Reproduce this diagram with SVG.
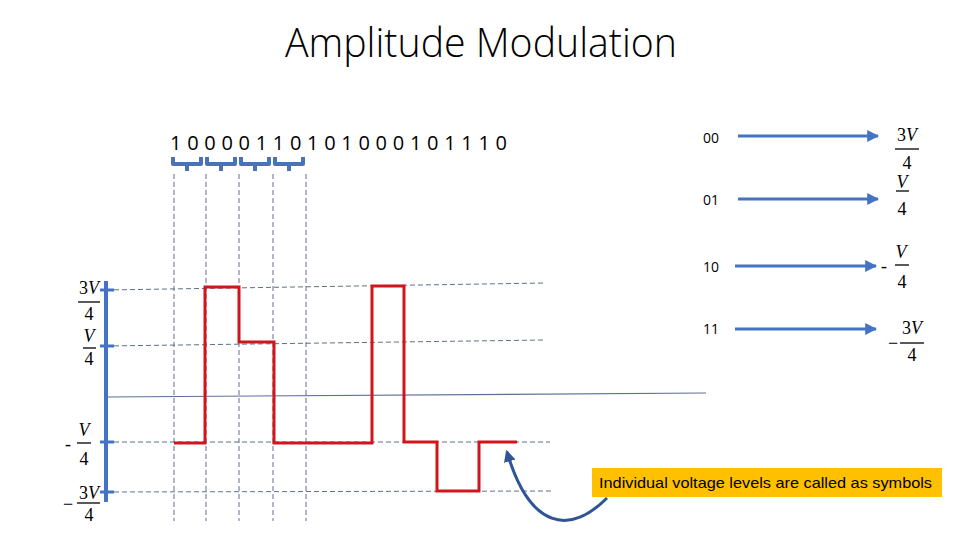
<svg xmlns="http://www.w3.org/2000/svg" width="960" height="540" viewBox="0 0 960 540">
<style>
.dash{stroke:#5f6f88;stroke-width:1;stroke-dasharray:5,3;fill:none}
.wave{stroke:#d0161c;stroke-width:3;fill:none;stroke-linejoin:miter}
.blue{stroke:#4472c4;stroke-width:3;fill:none}
.brace{stroke:#4a72b8;stroke-width:4;fill:none;stroke-linejoin:round}
.frac{font-family:"Liberation Serif",serif;font-size:18px;fill:#000;text-anchor:middle}
.v{font-style:italic}
.bar{stroke:#000;stroke-width:1.3}
.lbl{font-family:"Open Sans","Liberation Sans",Arial,sans-serif;font-size:14px;fill:#000}
</style>
<defs>
<marker id="ah" viewBox="0 0 10 10" refX="9" refY="5" markerWidth="4" markerHeight="4" orient="auto" markerUnits="strokeWidth">
<path d="M0,0 L10,5 L0,10 z" fill="#4472c4"/>
</marker>
<marker id="ah2" viewBox="0 0 10 10" refX="8" refY="5" markerWidth="4" markerHeight="4" orient="auto" markerUnits="strokeWidth">
<path d="M0,0 L10,5 L0,10 z" fill="#2f5597"/>
</marker>
</defs>
<rect width="960" height="540" fill="#fff"/>
<g id="title"><text x="285" y="57" font-family="Open Sans,Liberation Sans,Arial,sans-serif" font-weight="300" font-size="40" textLength="392" lengthAdjust="spacingAndGlyphs" fill="#000">Amplitude Modulation</text></g>
<g id="bits"><text x="170" y="150" font-family="Open Sans,Liberation Sans,Arial,sans-serif" font-size="20" textLength="337" lengthAdjust="spacing" fill="#000">1 0 0 0 0 1 1 0 1 0 1 0 0 0 1 0 1 1 1 0</text></g>
<g id="braces">
<path class="brace" d="M173,157 L173,164 L187,164 L187,171 M187,164 L201,164 L201,157"/>
<path class="brace" d="M207,157 L207,164 L221,164 L221,171 M221,164 L235,164 L235,157"/>
<path class="brace" d="M241,157 L241,164 L255,164 L255,171 M255,164 L269,164 L269,157"/>
<path class="brace" d="M275,157 L275,164 L289,164 L289,171 M289,164 L303,164 L303,157"/>
</g>
<g id="grid">
<line class="dash" x1="174" y1="174" x2="174" y2="521"/>
<line class="dash" x1="206" y1="174" x2="206" y2="521"/>
<line class="dash" x1="239" y1="174" x2="239" y2="521"/>
<line class="dash" x1="273" y1="174" x2="273" y2="521"/>
<line class="dash" x1="306" y1="174" x2="306" y2="521"/>
<line class="dash" x1="106" y1="290" x2="545" y2="283"/>
<line class="dash" x1="106" y1="346" x2="545" y2="340"/>
<line class="dash" x1="106" y1="442" x2="550" y2="442"/>
<line class="dash" x1="106" y1="492" x2="552" y2="491"/>
<line x1="106" y1="397" x2="706" y2="393" stroke="#5a7099" stroke-width="1.2"/>
</g>
<g id="axis">
<line x1="106" y1="281" x2="106" y2="502" stroke="#4472c4" stroke-width="4"/>
<line x1="100" y1="290" x2="114" y2="290" stroke="#4472c4" stroke-width="3"/>
<line x1="100" y1="346" x2="114" y2="346" stroke="#4472c4" stroke-width="3"/>
<line x1="100" y1="442" x2="114" y2="442" stroke="#4472c4" stroke-width="3"/>
<line x1="100" y1="492" x2="114" y2="492" stroke="#4472c4" stroke-width="3"/>
</g>
<g id="axis-labels">
<text class="frac" x="89" y="294">3<tspan class="v">V</tspan></text>
<line class="bar" x1="78" y1="302" x2="100" y2="302"/>
<text class="frac" x="89" y="320">4</text>
<text class="frac v" x="89" y="342">V</text>
<line class="bar" x1="83" y1="348" x2="96" y2="348"/>
<text class="frac" x="89" y="365">4</text>
<text class="frac" x="68" y="450">-</text>
<text class="frac v" x="84" y="436">V</text>
<line class="bar" x1="77" y1="443" x2="91" y2="443"/>
<text class="frac" x="84" y="465">4</text>
<text class="frac" x="68" y="510">−</text>
<text class="frac" x="89" y="499">3<tspan class="v">V</tspan></text>
<line class="bar" x1="77" y1="503" x2="100" y2="503"/>
<text class="frac" x="89" y="521">4</text>
</g>
<g id="waveform">
<path class="wave" d="M174,443 L205,443 L205,287 L239,287 L239,342 L274,342 L274,443 L372,443 L372,286 L404,286 L404,442 L437,442 L437,491 L479,491 L479,442 L517,442"/>
</g>
<g id="mapping">
<g id="row00">
<text class="lbl" x="703" y="143">00</text>
<line class="blue" x1="738" y1="136" x2="878" y2="136" marker-end="url(#ah)"/>
<text class="frac" x="907" y="141">3<tspan class="v">V</tspan></text>
<line class="bar" x1="895" y1="149" x2="919" y2="149"/>
<text class="frac" x="907" y="169">4</text>
</g>
<g id="row01">
<text class="lbl" x="703" y="205">01</text>
<line class="blue" x1="738" y1="199" x2="878" y2="199" marker-end="url(#ah)"/>
<text class="frac v" x="902" y="188">V</text>
<line class="bar" x1="896" y1="191" x2="909" y2="191"/>
<text class="frac" x="902" y="215">4</text>
</g>
<g id="row10">
<text class="lbl" x="703" y="272">10</text>
<line class="blue" x1="735" y1="266" x2="876" y2="266" marker-end="url(#ah)"/>
<text class="frac" x="884" y="272">-</text>
<text class="frac v" x="901" y="258">V</text>
<line class="bar" x1="895" y1="265" x2="909" y2="265"/>
<text class="frac" x="902" y="288">4</text>
</g>
<g id="row11">
<text class="lbl" x="703" y="334">11</text>
<line class="blue" x1="735" y1="329" x2="876" y2="329" marker-end="url(#ah)"/>
<text class="frac" x="893" y="349">−</text>
<text class="frac" x="912" y="334">3<tspan class="v">V</tspan></text>
<line class="bar" x1="900" y1="343" x2="924" y2="343"/>
<text class="frac" x="912" y="361">4</text>
</g>
</g>
<g id="callout">
<rect x="592" y="468" width="350" height="29" fill="#ffc000"/>
<text x="599" y="488" font-family="Liberation Sans,Arial,sans-serif" font-size="15" textLength="333" lengthAdjust="spacingAndGlyphs" fill="#000">Individual voltage levels are called as symbols</text>
</g>
<g id="connectors">
<path d="M607,498 C570,535 530,530 507,452" stroke="#2f5597" stroke-width="3" fill="none" marker-end="url(#ah2)"/>
</g>
</svg>
